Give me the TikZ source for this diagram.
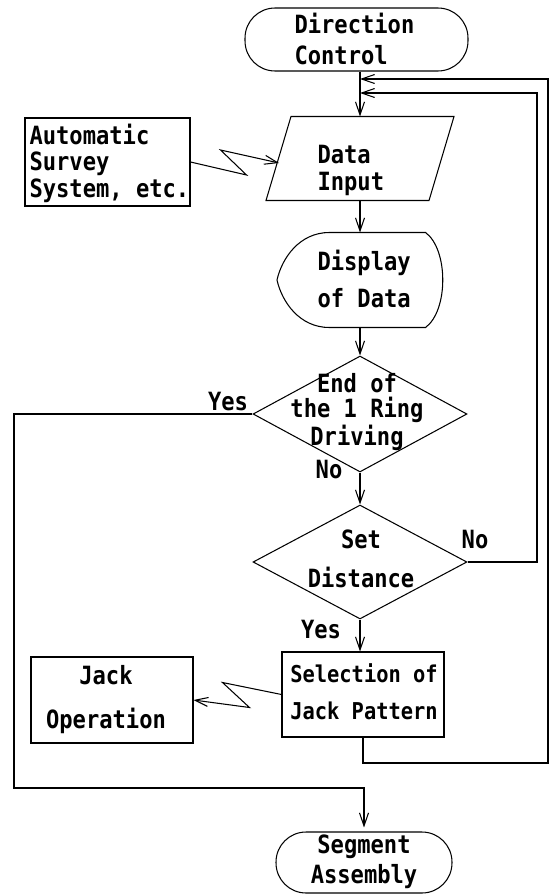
\documentclass[tikz,border=0pt]{standalone}
\usepackage{fontspec}
\setmainfont{DejaVu Sans Mono}[FakeStretch=0.88]
\usetikzlibrary{arrows.meta,calc,shapes.geometric}
\newcommand\fs[1]{\fontsize{14.3pt}{#1pt}\selectfont\bfseries}
\tikzset{
  flow/.style={-{Straight Barb[length=2.6mm,width=1.8mm]}},
  box/.style={draw, rectangle, inner sep=0pt},
  term/.style={draw, rectangle, rounded corners=0.6cm, inner sep=0pt},
  decide/.style={draw, diamond, inner sep=0pt},
  hold/.style={rectangle, inner sep=0pt},
  txt/.style={inner sep=0pt, anchor=base},
}
\begin{document}
\begin{tikzpicture}[x=0.02cm, y=-0.02cm, line width=0.6pt]
    \useasboundingbox (0,0) rectangle (552,895);
    % shapes
    \node[term, minimum width=4.46cm, minimum height=1.26cm] (dc) at (356.5,39.5) {};
    \node[box, minimum width=3.3cm, minimum height=1.76cm] (auto) at (107.5,162) {};
    \node[hold, minimum width=3.74cm, minimum height=1.66cm] (din) at (360,158.5) {};
    \draw ($(din.north west)+(25,0)$) -- (din.north east) -- ($(din.south east)-(25,0)$) -- (din.south west) -- cycle;
    \node[hold, minimum width=3.3cm, minimum height=1.88cm] (disp) at (360,280) {};
    \draw ($(disp.north west)+(52.5,0)$) coordinate (tl) -- ($(disp.north east)-(17.5,0)$)
        .. controls +(23,17) and +(23,-17) .. ($(disp.south east)-(17.5,0)$)
        -- ($(disp.south west)+(52.5,0)$) .. controls +(-30,0) and +(5,22) .. (disp.west)
        .. controls +(5,-22) and +(-30,0) .. (tl);
    \node[decide, minimum width=4.28cm, minimum height=2.32cm] (d1) at (360,414) {};
    \node[decide, minimum width=4.28cm, minimum height=2.28cm] (d2) at (360,562) {};
    \node[box, minimum width=3.24cm, minimum height=1.7cm] (sel) at (363,694.5) {};
    \node[box, minimum width=3.24cm, minimum height=1.72cm] (jack) at (112,700) {};
    \node[term, minimum width=3.52cm, minimum height=1.22cm] (seg) at (364,862.5) {};
    % texts (placed at the baseline of the last line)
    \node[txt, anchor=base west, align=left, font=\fs{18.2}] (dctxt) at (294,65) {Direction\\Control};
    \node[txt, anchor=base west, align=left, font=\fs{14.8}] (autotxt) at (29,197) {Automatic\\Survey\\System, etc.};
    \node[txt, anchor=base west, align=left, font=\fs{15.4}] (dintxt) at (317,191) {Data\\Input};
    \node[txt, anchor=base west, align=left, font=\fs{21}] (disptxt) at (317,307) {Display\\of Data};
    \node[txt, align=center, font=\fs{14.2}] (d1txt) at (357,445) {End of\\the 1 Ring\\Driving};
    \node[txt, align=center, font=\fs{22.2}] (d2txt) at (361,587) {Set\\Distance};
    \node[txt, align=center, font={\fs{20.5}\fontsize{13.2pt}{20.5pt}\selectfont}] (seltxt) at (364,719) {Selection of\\Jack Pattern};
    \node[txt, align=center, font=\fs{24.5}] (jacktxt) at (106,728) {Jack\\Operation};
    \node[txt, align=center, font=\fs{17}] (segtxt) at (364,883) {Segment\\Assembly};
    \node[txt, font=\fs{15}] (yes1) at (228,410) {Yes};
    \node[txt, font=\fs{15}] (no1) at (329,478) {No};
    \node[txt, font=\fs{15}] (no2) at (475,548) {No};
    \node[txt, font=\fs{15}] (yes2) at (321,638) {Yes};
    % connectors
    \coordinate (in1) at (360,79);
    \coordinate (in2) at (360,93);
    \coordinate (outer) at (548,763);
    \coordinate (inner) at (537,93);
    \coordinate (yesleft) at (14,788);
    \coordinate (dinin) at (279,163);
    \draw[flow] (dc.south -| din.north) -- (din.north);
    \draw[flow] (din.south) -- (disp.north);
    \draw[flow] (disp.south) -- (d1.north);
    \draw[flow] (d1.south) -- (d2.north);
    \draw[flow] (d2.south) -- (d2.south |- sel.north);
    \draw[flow, shorten >=0.08cm] (d1.west) -| (yesleft) -| (seg.north);
    \draw[flow] (sel.south) |- (outer) |- (in1);
    \draw[flow] (d2.east) -| (inner) -- (in2);
    \draw[flow] (auto.east) -- ++(56,13) -- ++(-26,-25) -- (dinin);
    \draw[flow] (sel.west) -- ++(-59,-12) -- ++(27,25) -- (jack.east);
\end{tikzpicture}
\end{document}
